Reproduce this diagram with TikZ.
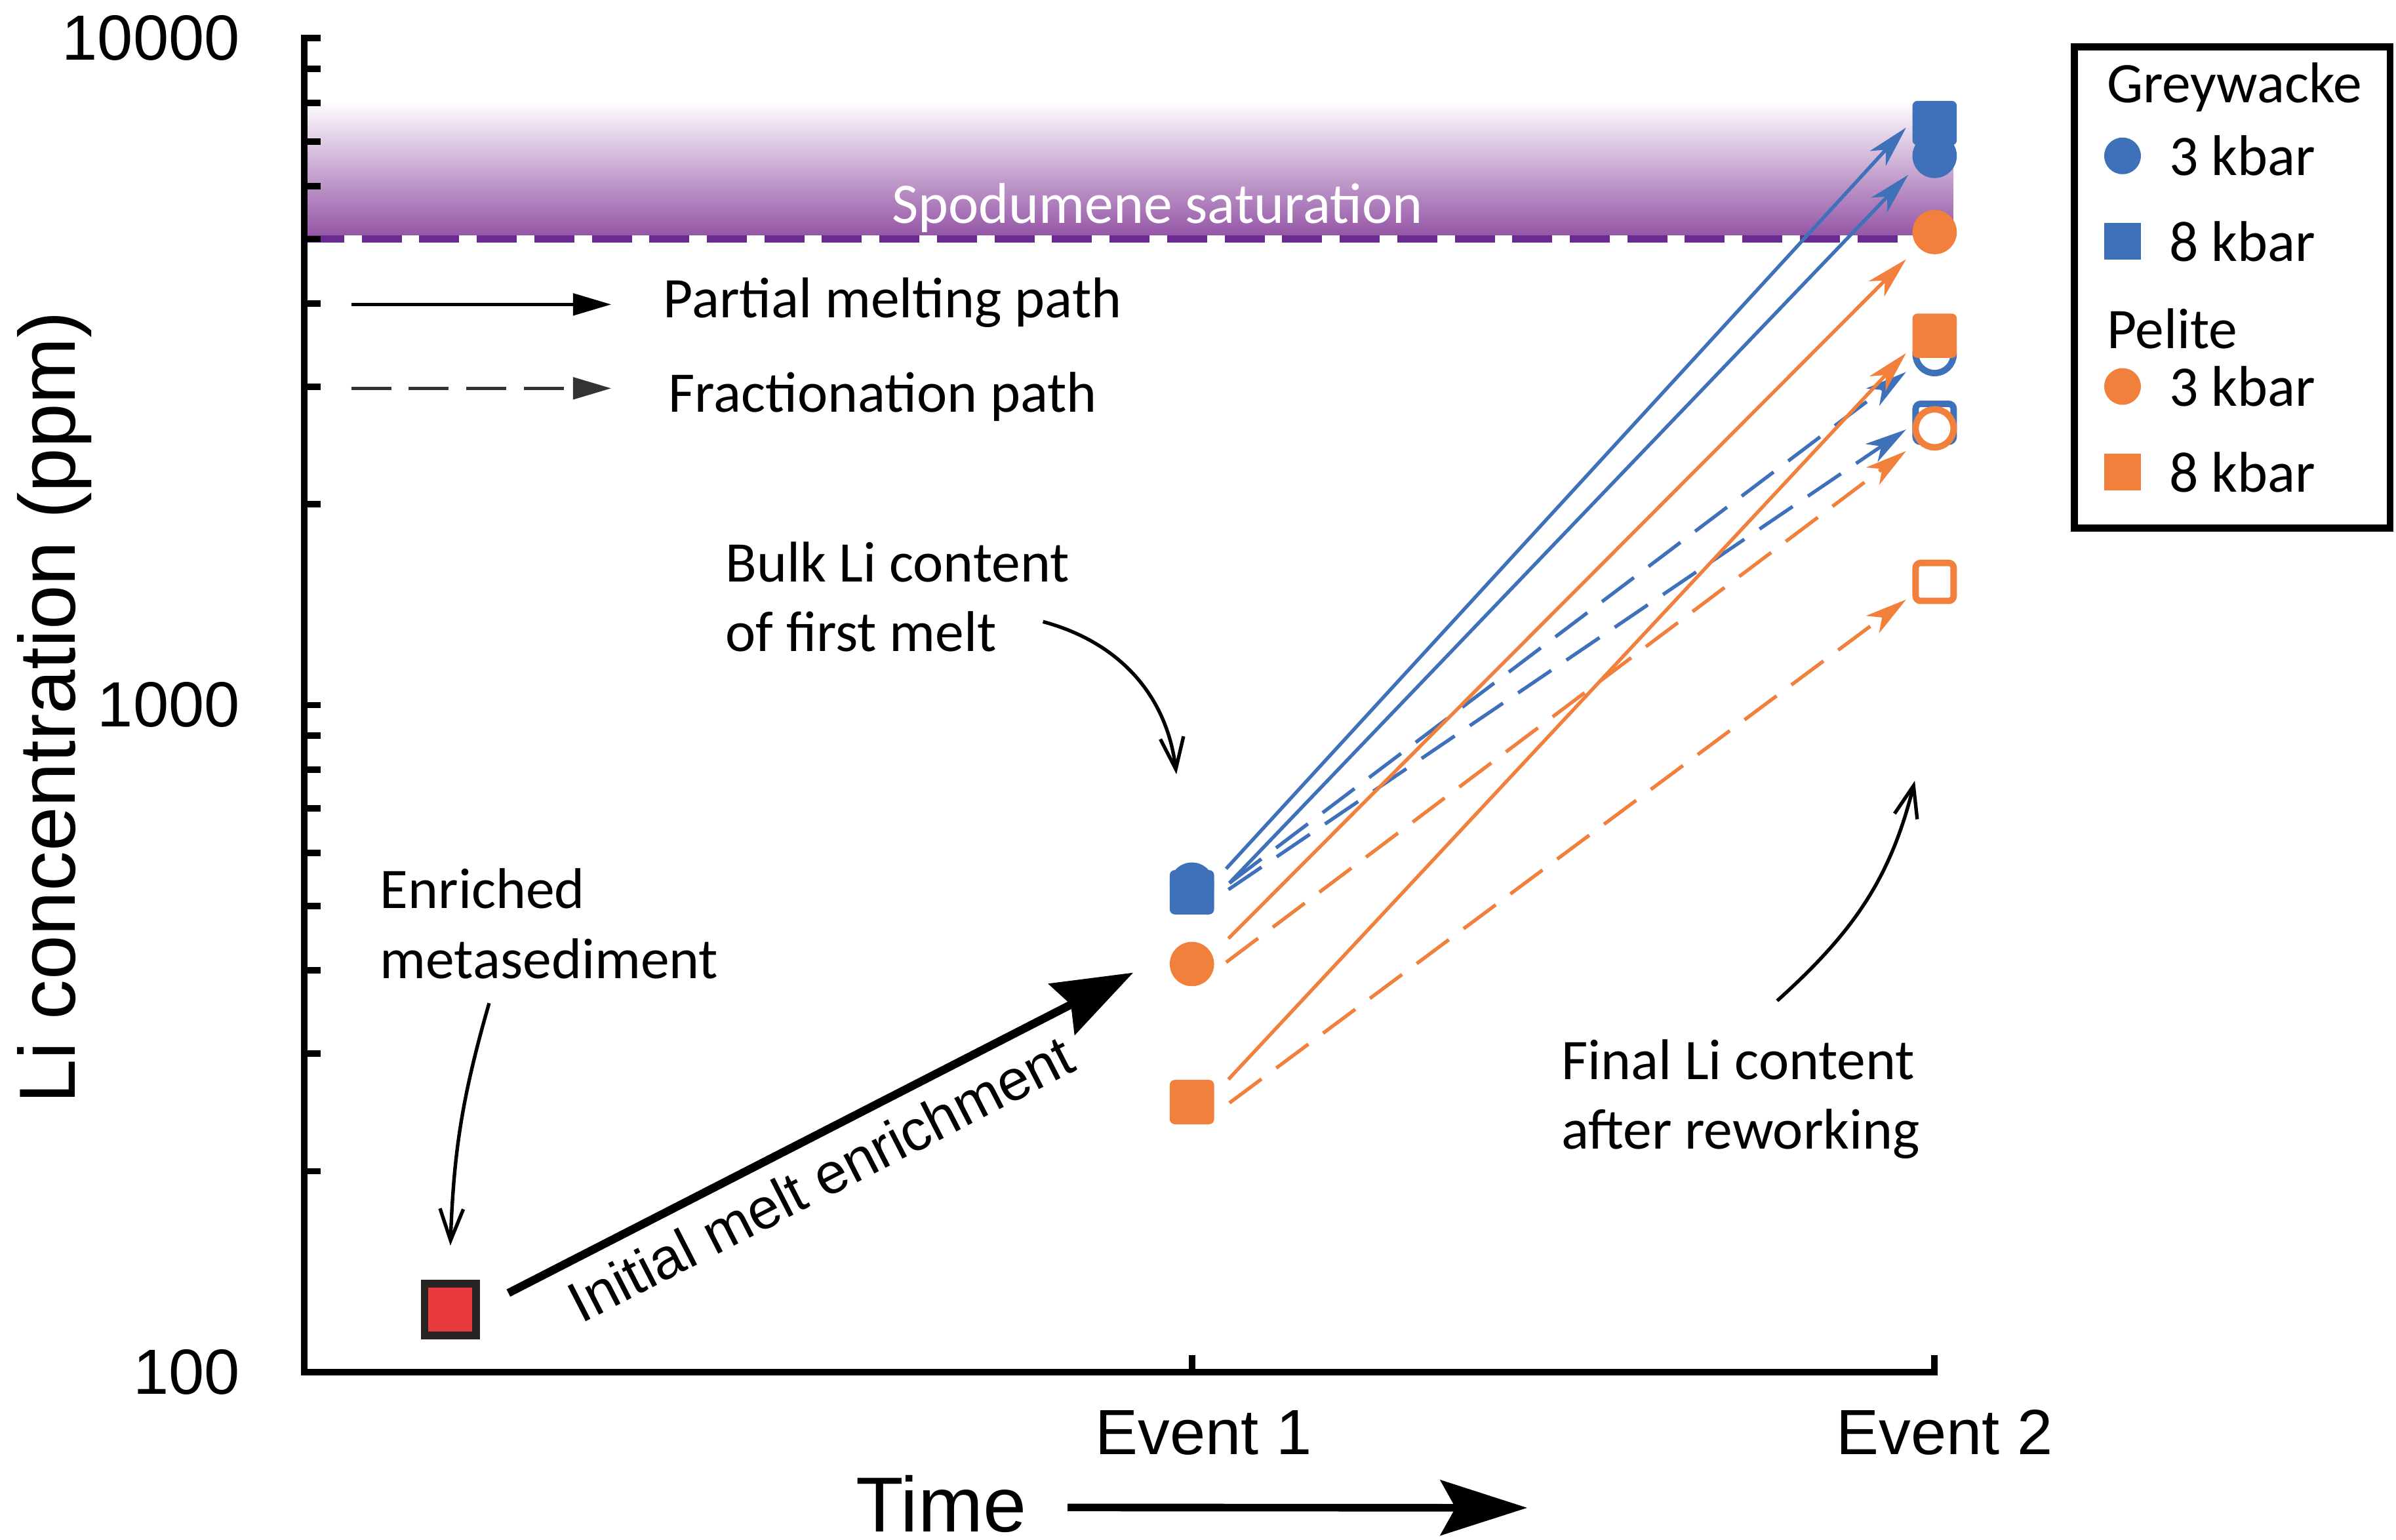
\documentclass[tikz,border=0pt]{standalone}
\usepackage{fontspec}
\setmainfont{Carlito}
\newfontfamily\axfont{Liberation Sans}
\usepackage{tikz}
\usetikzlibrary{positioning, arrows.meta}
\definecolor{GwBlue}{RGB}{62,113,186}
\definecolor{PlOrange}{RGB}{240,128,60}
\definecolor{SedRed}{RGB}{233,58,62}
\definecolor{SedEdge}{RGB}{40,36,36}
\definecolor{SpoPurple}{RGB}{146,82,164}
\definecolor{SpoDash}{RGB}{106,42,145}
\newcommand{\notesize}{\fontsize{9.8}{11.9}\selectfont}
\newcommand{\axsize}{\axfont\fontsize{10.9}{13}\selectfont}

\begin{document}
\begin{tikzpicture}[
    declare function={ly(\v)=4*(log10(\v)-2);},
    axis/.style={line width=1.1pt, black},
    dot/.style={circle, inner sep=0pt, minimum size=2.66mm},
    sq/.style={rectangle, rounded corners=0.3mm, inner sep=0pt, minimum size=2.66mm},
    hollow/.style={fill=white, line width=1.1pt, minimum size=2.28mm},
    key/.style={minimum size=2.2mm},
    note/.style={font=\notesize, align=left, inner sep=0pt},
    melt/.style={-{Stealth[length=2.5mm, width=1.3mm, inset=0.7mm]}, line width=0.6pt},
    frac/.style={melt, dash pattern=on 2.4mm off 1.1mm},
    lbl/.style={-{Straight Barb[length=1.9mm, width=1.4mm]}, line width=0.6pt}
  ]
  \useasboundingbox (-1.824,-1.008) rectangle (12.545,8.229);

  % spodumene saturation band
  \shade[top color=white, bottom color=SpoPurple] (0,{ly(5000)}) rectangle (9.888,7.625);
  \draw[white, line width=1.25pt] (0,{ly(5000)}) -- (9.888,{ly(5000)});
  \draw[SpoDash, line width=1.25pt, dash pattern=on 2.4mm off 1.05mm]
       (0,{ly(5000)}) -- (9.888,{ly(5000)});
  \node[note, text=white, anchor=base] (spo) at (5.116,6.889) {Spodumene saturation};

  % axes
  \draw[axis] (0.1,8) -- (0,8) -- (0,0) -- (9.778,0) -- (9.778,0.1);
  \draw[axis] (5.324,0) -- (5.324,0.1);
  \foreach \d in {100,1000}
    \foreach \m in {2,...,10}
      \draw[axis] (0,{ly(\m*\d)}) -- ++(0.1,0);
  \foreach \v/\lab in {0/100, 4/1000, 8/10000}
    \node[font=\axsize, anchor=east, inner sep=0pt] (t\lab) at (-0.379,\v) {\lab};
  \node[font=\axsize, anchor=base, inner sep=0pt] (ev1) at (5.396,-0.493) {Event 1};
  \node[font=\axsize, anchor=base, inner sep=0pt] (ev2) at (9.838,-0.493) {Event 2};
  \node[font=\axfont\fontsize{13.3}{16}\selectfont, anchor=base, inner sep=0pt]
       (time) at (3.821,-0.960) {Time};
  \coordinate (tend) at (7.335,-0.815);
  \draw[line width=1.3pt, -{Stealth[length=5.2mm, width=3.3mm, inset=0.9mm]}]
       ([xshift=2.4mm, yshift=-0.2mm]time.east) -- (tend);
  \node[font=\axfont\fontsize{13.6}{16}\selectfont, rotate=90, anchor=base, inner sep=0pt]
       (ylab) at (-1.372,3.986) {Li concentration (ppm)};

  % path key
  \node[note, anchor=base west] (pml) at (2.148,6.323) {Partial melting path};
  \node[note, anchor=base west] (frl) at (2.178,5.758) {Fractionation path};
  \draw[-{Triangle[length=2.3mm, width=1.3mm]}, line width=0.6pt]
       ([xshift=-18.66mm, yshift=-0.1mm]pml.west) -- ([xshift=-3.06mm, yshift=-0.1mm]pml.west);
  \draw[-{Triangle[length=2.3mm, width=1.3mm]}, line width=0.6pt, black!80,
        dash pattern=on 2.4mm off 1.05mm]
       ([xshift=-18.96mm, yshift=0.5mm]frl.west) -- ([xshift=-3.36mm, yshift=0.5mm]frl.west);

  % legend box
  \draw[line width=1.2pt] (10.617,5.062) rectangle (12.509,7.948);
  \node[note, anchor=west] (gw) at (10.804,7.707) {Greywacke};
  \node[dot, key, fill=GwBlue] (kgc) at (10.905,7.294) {};
  \node[note, right=1.56mm of kgc] (kgct) {3 kbar};
  \node[sq, key, rounded corners=0pt, fill=GwBlue] (kgs) at (10.905,6.781) {};
  \node[note, right=1.56mm of kgs] (kgst) {8 kbar};
  \node[note, anchor=west] (pe) at (10.804,6.259) {Pelite};
  \node[dot, key, fill=PlOrange] (kpc) at (10.905,5.911) {};
  \node[note, right=1.56mm of kpc] (kpct) {3 kbar};
  \node[sq, key, rounded corners=0pt, fill=PlOrange] (kps) at (10.905,5.398) {};
  \node[note, right=1.56mm of kps] (kpst) {8 kbar};

  % event 1 melts
  \node[dot, fill=GwBlue] (e1gc) at (5.324,{ly(538)}) {};
  \node[sq, fill=GwBlue] (e1gs) at (5.324,{ly(524)}) {};
  \node[dot, fill=PlOrange] (e1pc) at (5.324,{ly(409)}) {};
  \node[sq, fill=PlOrange] (e1ps) at (5.324,{ly(254)}) {};

  % event 2 melts
  \node[sq, fill=GwBlue] (e2gs) at (9.778,{ly(7460)}) {};
  \node[dot, fill=GwBlue] (e2gc) at (9.778,{ly(6660)}) {};
  \node[dot, fill=PlOrange] (e2pc) at (9.778,{ly(5120)}) {};
  \node[dot, hollow, draw=GwBlue] (e2go) at (9.778,{ly(3360)}) {};
  \node[sq, fill=PlOrange] (e2ps) at (9.778,{ly(3580)}) {};
  \node[sq, hollow, draw=GwBlue] (e2gq) at (9.778,{ly(2650)}) {};
  \node[dot, hollow, draw=PlOrange] (e2po) at (9.778,{ly(2600)}) {};
  \node[sq, hollow, draw=PlOrange] (e2pq) at (9.778,{ly(1530)}) {};

  % reworking paths
  \draw[melt, GwBlue] ([shift={(0.205,0.141)}]e1gs.center) -- ([shift={(-0.171,-0.027)}]e2gs.center);
  \draw[melt, GwBlue] ([shift={(0.225,0.010)}]e1gc.center) -- ([shift={(-0.159,-0.114)}]e2gc.center);
  \draw[frac, GwBlue] ([shift={(0.225,0.009)}]e1gc.center) -- ([shift={(-0.171,-0.107)}]e2go.center);
  \draw[frac, GwBlue] ([shift={(0.219,0.016)}]e1gs.center) -- ([shift={(-0.171,-0.040)}]e2gq.center);
  \draw[melt, PlOrange] ([shift={(0.219,0.153)}]e1pc.center) -- ([shift={(-0.171,-0.163)}]e2pc.center);
  \draw[frac, PlOrange] ([shift={(0.205,0.010)}]e1pc.center) -- ([shift={(-0.171,-0.136)}]e2po.center);
  \draw[melt, PlOrange] ([shift={(0.219,0.136)}]e1ps.center) -- ([shift={(-0.171,-0.104)}]e2ps.center);
  \draw[frac, PlOrange] ([shift={(0.225,-0.005)}]e1ps.center) -- ([shift={(-0.171,-0.106)}]e2pq.center);

  % source and first melting
  \node[rectangle, draw=SedEdge, fill=SedRed, line width=1.3pt, minimum size=3.1mm, inner sep=0pt]
       (meta) at (0.877,{ly(124)}) {};
  \coordinate (etip) at (4.972,2.395);
  \draw[line width=1.4pt, -{Stealth[length=4.8mm, width=3.4mm, inset=0.6mm]}]
       ([shift={(0.17,0.1)}]meta.east) -- (etip)
       node[pos=0.47, sloped, below, inner sep=2.6pt, font=\axfont\fontsize{9.8}{12}\selectfont]
       (ime) {Initial melt enrichment};

  % annotations
  \node[note, anchor=west] (enr) at (0.449,2.689) {Enriched\\metasediment};
  \node[note, anchor=west] (bulk) at (2.520,4.650) {Bulk Li content\\of first melt};
  \node[note, anchor=west] (fin) at (7.532,1.635) {Final Li content\\after reworking};
  \coordinate (fintip) at (9.659,3.546);
  \draw[lbl] ([shift={(-0.36,-0.14)}]enr.south) to[out=-106, in=88] ([yshift=2.07mm]meta.north);
  \draw[lbl] ([shift={(-0.165,-0.15)}]bulk.east) to[out=-15, in=97] ([shift={(-0.093,0.662)}]e1gc.center);
  \draw[lbl] ([shift={(0.22,0.226)}]fin.north) to[out=42, in=-104] (fintip);
\end{tikzpicture}
\end{document}
